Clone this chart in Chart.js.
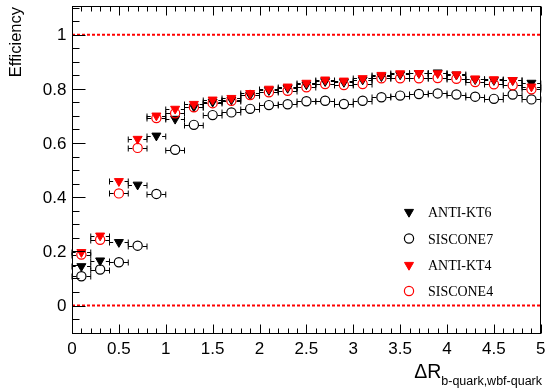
<!DOCTYPE html>
<html>
<head>
<meta charset="utf-8">
<script src="https://cdn.jsdelivr.net/npm/chart.js@4.4.0/dist/chart.umd.min.js"></script>
<style>
  html, body { margin: 0; padding: 0; background: #fff; }
  #wrap { width: 547px; height: 391px; }
</style>
</head>
<body>
<div id="wrap"><canvas id="c" width="547" height="391"></canvas></div>
<script>
// ── data ──────────────────────────────────────
const binCenters = [0.1, 0.3, 0.5, 0.7, 0.9, 1.1, 1.3, 1.5, 1.7, 1.9, 2.1, 2.3, 2.5,
  2.7, 2.9, 3.1, 3.3, 3.5, 3.7, 3.9, 4.1, 4.3, 4.5, 4.7, 4.9];
const binHalfWidth = 0.1;

const antiKt6 = [0.145, 0.166, 0.234, 0.446, 0.627, 0.689, 0.734, 0.752, 0.760, 0.778,
  0.795, 0.803, 0.816, 0.828, 0.825, 0.834, 0.846, 0.853, 0.858, 0.860, 0.852, 0.835,
  0.832, 0.832, 0.822];
const siscone7 = [0.108, 0.133, 0.160, 0.221, 0.412, 0.575, 0.667, 0.703, 0.713, 0.726,
  0.740, 0.743, 0.754, 0.756, 0.744, 0.756, 0.769, 0.775, 0.781, 0.783, 0.779, 0.771,
  0.763, 0.779, 0.761];
const antiKt4 = [0.197, 0.258, 0.459, 0.615, 0.701, 0.726, 0.744, 0.760, 0.766, 0.784,
  0.800, 0.808, 0.822, 0.834, 0.830, 0.839, 0.851, 0.857, 0.858, 0.857, 0.853, 0.838,
  0.835, 0.832, 0.808];
const siscone4 = [0.188, 0.243, 0.414, 0.582, 0.692, 0.710, 0.732, 0.747, 0.756, 0.777,
  0.787, 0.793, 0.806, 0.818, 0.814, 0.818, 0.839, 0.839, 0.839, 0.840, 0.837, 0.825,
  0.817, 0.813, 0.798];

const seriesNames = ["ANTI-KT6", "SISCONE7", "ANTI-KT4", "SISCONE4"];
const xTicks = [0, 0.5, 1, 1.5, 2, 2.5, 3, 3.5, 4, 4.5, 5];
const yTicks = [0, 0.2, 0.4, 0.6, 0.8, 1];
const refLevels = [1, 0];

// ── helpers ───────────────────────────────────
function pts(arr) {
  return binCenters.map((x, i) => ({ x, y: arr[i] }));
}
function markerSet(label, arr, color, filled, order) {
  return {
    label,
    data: pts(arr),
    showLine: false,
    order,
    pointStyle: filled ? "triangle" : "circle",
    rotation: filled ? 180 : 0,
    pointRadius: filled ? 5.2 : 4.6,
    pointBorderWidth: filled ? 1 : 1.2,
    pointBackgroundColor: filled ? color : "rgba(0,0,0,0)",
    pointBorderColor: color,
    errBars: true,
  };
}

const datasets = [
  markerSet(seriesNames[0], antiKt6, "#000", true, 3),
  markerSet(seriesNames[1], siscone7, "#000", false, 2),
  markerSet(seriesNames[2], antiKt4, "#ff0000", true, 1),
  markerSet(seriesNames[3], siscone4, "#ff0000", false, 0),
];
refLevels.forEach((lv) => {
  datasets.push({
    type: "line",
    data: [{ x: xTicks[0], y: lv }, { x: xTicks[xTicks.length - 1], y: lv }],
    borderColor: "#ff0000",
    borderWidth: 2,
    borderDash: [3, 2],
    pointRadius: 0,
    order: 5,
  });
});

const SANS = "'Liberation Sans', Arial, sans-serif";

// ── ROOT-ish frame, ticks, legend, titles ─────
const rootFrame = {
  id: "rootFrame",
  beforeDatasetsDraw(chart) {
    const ctx = chart.ctx, xs = chart.scales.x, ys = chart.scales.y;
    ctx.save();
    ctx.strokeStyle = "#000";
    ctx.lineWidth = 1;
    chart.data.datasets.forEach((ds) => {
      if (!ds.errBars) return;
      const gap = ds.pointRadius + 0.5;
      ds.data.forEach((p) => {
        const px = xs.getPixelForValue(p.x);
        const lo = xs.getPixelForValue(p.x - binHalfWidth);
        const hi = xs.getPixelForValue(p.x + binHalfWidth);
        const py = Math.round(ys.getPixelForValue(p.y)) + 0.5;
        ctx.beginPath();
        ctx.moveTo(lo, py); ctx.lineTo(px - gap, py);
        ctx.moveTo(px + gap, py); ctx.lineTo(hi, py);
        ctx.moveTo(lo, py - 3); ctx.lineTo(lo, py + 3);
        ctx.moveTo(hi, py - 3); ctx.lineTo(hi, py + 3);
        ctx.stroke();
      });
    });
    ctx.restore();
  },
  afterDraw(chart) {
    const ctx = chart.ctx, a = chart.chartArea;
    const xs = chart.scales.x, ys = chart.scales.y;
    ctx.save();
    ctx.strokeStyle = "#000";
    ctx.lineWidth = 1;
    const L = Math.round(a.left) + 0.5, R = Math.round(a.right) - 0.5;
    const T = Math.round(a.top) + 0.5, B = Math.round(a.bottom) - 0.5;
    ctx.strokeRect(L, T, R - L, B - T);

    ctx.beginPath();
    // y ticks every 0.05, major each 0.2
    for (let k = -2; k <= 22; k++) {
      const py = Math.round(ys.getPixelForValue(k * 0.05)) + 0.5;
      if (py < a.top || py > a.bottom) continue;
      const len = k % 4 === 0 ? 13 : 7;
      ctx.moveTo(L, py); ctx.lineTo(L + len, py);
    }
    // x ticks every 0.1, major each 0.5 (bottom and top)
    for (let k = 0; k <= 50; k++) {
      const px = Math.round(xs.getPixelForValue(k * 0.1)) + 0.5;
      const len = k % 5 === 0 ? 9 : 5;
      ctx.moveTo(px, B); ctx.lineTo(px, B - len);
      ctx.moveTo(px, T); ctx.lineTo(px, T + len);
    }
    ctx.stroke();

    // tick labels
    ctx.fillStyle = "#000";
    ctx.font = "17px " + SANS;
    ctx.textAlign = "right";
    ctx.textBaseline = "middle";
    yTicks.forEach((v) => ctx.fillText(String(v), L - 6, ys.getPixelForValue(v) + 1));
    ctx.textAlign = "center";
    ctx.textBaseline = "top";
    xTicks.forEach((v) => ctx.fillText(String(v), xs.getPixelForValue(v), B + 7));

    // legend
    const lx = 409, tx = 428, rows = [212, 238.5, 265, 291];
    chart.data.datasets.slice(0, 4).forEach((ds, i) => {
      ctx.fillStyle = ds.pointBackgroundColor;
      ctx.strokeStyle = ds.pointBorderColor;
      ctx.lineWidth = ds.pointBorderWidth;
      Chart.helpers.drawPoint(ctx, {
        pointStyle: ds.pointStyle, radius: ds.pointRadius,
        rotation: ds.rotation, borderWidth: ds.pointBorderWidth,
      }, lx, rows[i]);
      ctx.save();
      ctx.translate(tx, rows[i] + 1);
      ctx.scale(0.9, 1);
      ctx.fillStyle = "#000";
      ctx.font = "15.5px 'Liberation Serif', serif";
      ctx.textBaseline = "middle";
      ctx.textAlign = "left";
      ctx.fillText(seriesNames[i], 0, 0);
      ctx.restore();
    });

    // axis titles
    ctx.fillStyle = "#000";
    ctx.textBaseline = "alphabetic";
    ctx.save();
    ctx.translate(21, 7);
    ctx.rotate(-Math.PI / 2);
    ctx.textAlign = "right";
    ctx.font = "16.5px " + SANS;
    ctx.fillText("Efficiency", 0, 0);
    ctx.restore();

    ctx.textAlign = "right";
    ctx.font = "12.5px " + SANS;
    const sub = "b-quark,wbf-quark";
    ctx.fillText(sub, 542, 385);
    const subW = ctx.measureText(sub).width;
    ctx.font = "19.5px " + SANS;
    ctx.fillText("\u0394R", 542 - subW, 378);
    ctx.restore();
  },
};

new Chart(document.getElementById("c"), {
  type: "scatter",
  data: { datasets },
  options: {
    responsive: false,
    animation: false,
    events: [],
    devicePixelRatio: 1,
    layout: { padding: { top: 5, right: 5, left: 0, bottom: 0 } },
    plugins: { legend: { display: false }, tooltip: { enabled: false } },
    scales: {
      x: {
        type: "linear",
        min: 0,
        max: 5,
        grid: { display: false },
        border: { display: false },
        ticks: { display: false },
        afterBuildTicks: (s) => { s.ticks = xTicks.map((v) => ({ value: v })); },
        afterFit: (s) => { s.height = 57; },
      },
      y: {
        type: "linear",
        min: -0.105,
        max: 1.105,
        grid: { display: false },
        border: { display: false },
        ticks: { display: false },
        afterBuildTicks: (s) => { s.ticks = yTicks.map((v) => ({ value: v })); },
        afterFit: (s) => { s.width = 72; },
      },
    },
  },
  plugins: [rootFrame],
});
</script>
</body>
</html>
